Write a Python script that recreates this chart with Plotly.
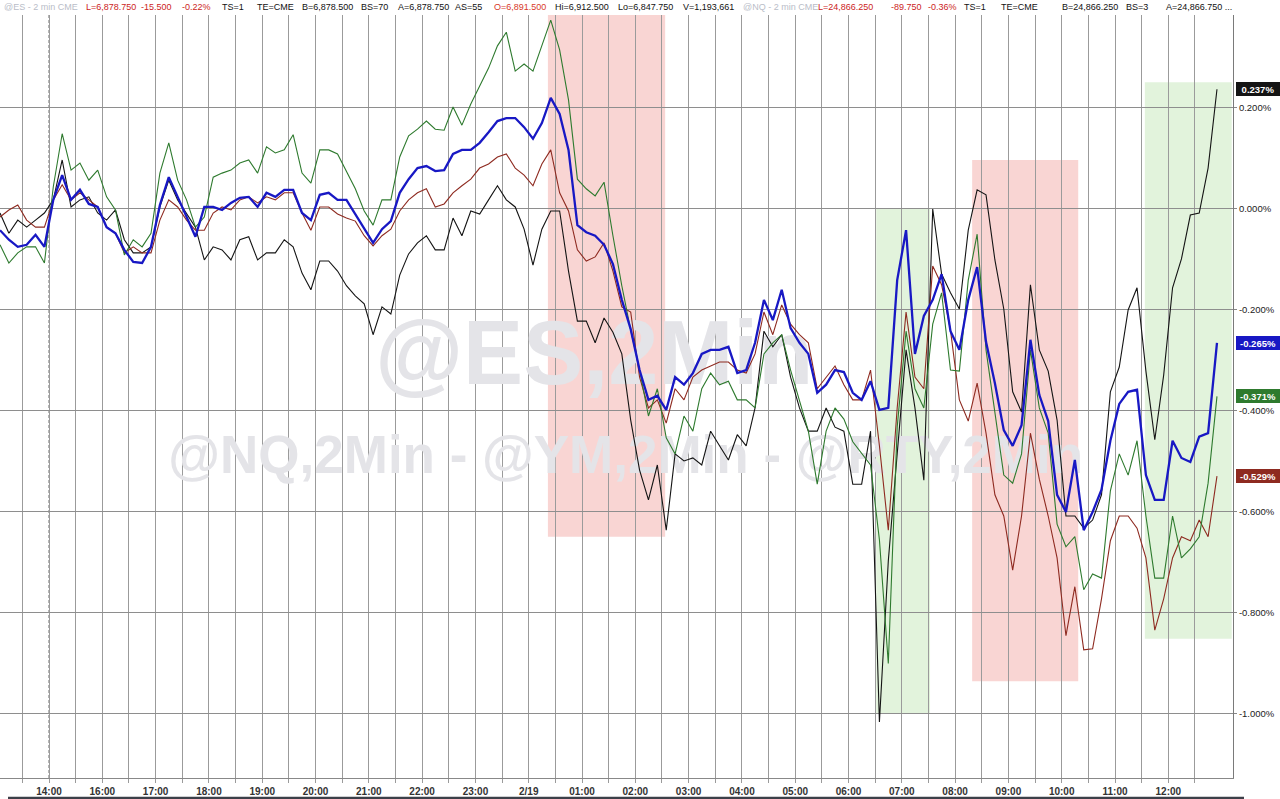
import plotly.graph_objects as go

# ---------------- data (percent change, 10-minute samples) ----------------
TIME_LABELS = ["14:00", "16:00", "17:00", "18:00", "19:00", "20:00", "21:00", "22:00",
               "23:00", "2/19", "01:00", "02:00", "03:00", "04:00", "05:00", "06:00",
               "07:00", "08:00", "09:00", "10:00", "11:00", "12:00"]
X0 = -0.92          # first sample, in session hours relative to the 14:00 label
STEP = 1 / 6        # 10 minutes

es = [-0.042, -0.061, -0.075, -0.071, -0.051, -0.075, 0.018, 0.067, 0.018, 0.038,
      0.010, 0.004, -0.036, -0.048, -0.081, -0.105, -0.107, -0.075, 0.008, 0.063,
      0.024, -0.016, -0.055, 0.004, 0.004, -0.002, 0.012, 0.022, 0.024, 0.004,
      0.032, 0.024, 0.038, 0.038, -0.008, -0.022, 0.028, 0.032, 0.018, 0.018,
      -0.010, -0.040, -0.067, -0.040, -0.024, 0.032, 0.059, 0.081, 0.085, 0.075,
      0.077, 0.109, 0.117, 0.117, 0.131, 0.152, 0.174, 0.180, 0.180, 0.162,
      0.139, 0.170, 0.220, 0.188, 0.117, -0.032, -0.046, -0.053, -0.071, -0.109,
      -0.180, -0.238, -0.319, -0.378, -0.370, -0.398, -0.333, -0.348, -0.325, -0.287,
      -0.279, -0.279, -0.273, -0.325, -0.319, -0.265, -0.180, -0.220, -0.160, -0.236,
      -0.265, -0.287, -0.364, -0.348, -0.319, -0.323, -0.364, -0.378, -0.341, -0.398,
      -0.394, -0.141, -0.042, -0.287, -0.212, -0.180, -0.129, -0.242, -0.279, -0.180,
      -0.115, -0.263, -0.345, -0.438, -0.469, -0.428, -0.259, -0.368, -0.420, -0.566,
      -0.600, -0.497, -0.636, -0.600, -0.556, -0.459, -0.386, -0.362, -0.358, -0.527,
      -0.576, -0.576, -0.459, -0.493, -0.501, -0.451, -0.444, -0.265]

nq = [-0.071, -0.107, -0.087, -0.075, -0.075, -0.107, 0.044, 0.149, 0.077, 0.091,
      0.057, 0.077, 0.024, -0.002, -0.091, -0.061, -0.075, -0.048, 0.071, 0.131,
      0.057, 0.018, -0.036, -0.016, 0.063, 0.071, 0.077, 0.091, 0.097, 0.071,
      0.123, 0.111, 0.117, 0.147, 0.071, 0.051, 0.117, 0.117, 0.109, 0.075,
      0.040, -0.004, -0.032, 0.018, 0.018, 0.103, 0.145, 0.158, 0.174, 0.158,
      0.156, 0.202, 0.166, 0.208, 0.244, 0.279, 0.323, 0.350, 0.273, 0.287,
      0.273, 0.323, 0.374, 0.315, 0.216, 0.059, 0.040, 0.026, 0.053, -0.053,
      -0.152, -0.240, -0.319, -0.410, -0.356, -0.453, -0.485, -0.410, -0.440, -0.356,
      -0.325, -0.348, -0.341, -0.378, -0.378, -0.394, -0.287, -0.265, -0.249, -0.319,
      -0.378, -0.440, -0.545, -0.440, -0.394, -0.416, -0.461, -0.485, -0.507, -0.655,
      -0.900, -0.432, -0.242, -0.356, -0.394, -0.228, -0.166, -0.319, -0.321, -0.141,
      -0.050, -0.279, -0.402, -0.527, -0.543, -0.485, -0.279, -0.394, -0.444, -0.624,
      -0.669, -0.649, -0.754, -0.723, -0.731, -0.558, -0.485, -0.527, -0.459, -0.608,
      -0.731, -0.731, -0.608, -0.691, -0.673, -0.649, -0.543, -0.371]

ym = [-0.016, -0.002, 0.008, -0.022, -0.036, -0.036, 0.018, 0.048, 0.018, 0.032,
      0.018, 0.004, -0.036, -0.048, -0.087, -0.075, -0.087, -0.087, -0.022, 0.018,
      0.004, -0.022, -0.042, -0.042, -0.008, 0.004, -0.002, 0.018, 0.024, 0.012,
      0.024, 0.018, 0.032, 0.032, -0.008, -0.042, 0.004, 0.004, -0.010, -0.018,
      -0.024, -0.053, -0.073, -0.053, -0.040, -0.004, 0.018, 0.032, 0.040, 0.004,
      0.010, 0.032, 0.046, 0.059, 0.081, 0.089, 0.103, 0.109, 0.081, 0.067,
      0.046, 0.089, 0.117, 0.032, -0.004, -0.081, -0.103, -0.095, -0.067, -0.123,
      -0.194, -0.204, -0.333, -0.394, -0.378, -0.424, -0.356, -0.378, -0.333, -0.319,
      -0.311, -0.303, -0.303, -0.319, -0.325, -0.287, -0.204, -0.249, -0.190, -0.228,
      -0.249, -0.265, -0.356, -0.333, -0.311, -0.348, -0.378, -0.378, -0.319, -0.469,
      -0.636, -0.394, -0.204, -0.333, -0.356, -0.113, -0.150, -0.240, -0.378, -0.420,
      -0.345, -0.444, -0.566, -0.608, -0.715, -0.608, -0.444, -0.535, -0.608, -0.691,
      -0.845, -0.748, -0.873, -0.871, -0.772, -0.657, -0.608, -0.608, -0.632, -0.691,
      -0.834, -0.772, -0.691, -0.649, -0.657, -0.616, -0.649, -0.529]

rty = [-0.008, -0.048, -0.022, -0.036, -0.022, -0.008, 0.018, 0.097, 0.004, 0.018,
       0.024, -0.008, -0.022, -0.002, -0.061, -0.087, -0.087, -0.075, 0.004, 0.057,
       0.018, -0.008, -0.036, -0.101, -0.075, -0.081, -0.101, -0.061, -0.055, -0.101,
       -0.087, -0.087, -0.061, -0.075, -0.127, -0.160, -0.103, -0.103, -0.123, -0.152,
       -0.172, -0.188, -0.249, -0.194, -0.208, -0.131, -0.089, -0.067, -0.053, -0.081,
       -0.081, -0.018, -0.053, -0.004, -0.010, 0.018, 0.046, 0.018, 0.004, -0.040,
       -0.111, -0.040, -0.004, -0.004, -0.123, -0.222, -0.222, -0.265, -0.216, -0.244,
       -0.287, -0.418, -0.517, -0.576, -0.507, -0.636, -0.485, -0.499, -0.493, -0.507,
       -0.440, -0.469, -0.497, -0.447, -0.469, -0.394, -0.242, -0.273, -0.249, -0.333,
       -0.394, -0.440, -0.440, -0.394, -0.432, -0.440, -0.545, -0.545, -0.440, -1.016,
       -0.697, -0.485, -0.279, -0.394, -0.537, 0.000, -0.129, -0.166, -0.198, -0.042,
       0.038, 0.028, -0.101, -0.198, -0.362, -0.402, -0.150, -0.279, -0.321, -0.418,
       -0.608, -0.608, -0.632, -0.616, -0.566, -0.362, -0.313, -0.200, -0.156, -0.321,
       -0.457, -0.329, -0.156, -0.099, -0.012, -0.008, 0.081, 0.237]

Y_TICKS = [0.2, 0.0, -0.2, -0.4, -0.6, -0.8, -1.0]

# shaded periods: (start hour, end hour, top %, bottom %, colour)
SHADES = [
    (9.36, 11.56, 0.384, -0.649, "#f9d5d3"),
    (15.52, 16.53, 0.002, -0.998, "#e2f3dc"),
    (17.32, 19.31, 0.097, -0.935, "#f9d5d3"),
    (20.56, 22.19, 0.251, -0.851, "#e2f3dc"),
]

SERIES = [  # name, values, colour, width
    ("@RTY", rty, "#141414", 1.1),
    ("@YM", ym, "#8e2a20", 1.1),
    ("@NQ", nq, "#2e7a2e", 1.1),
    ("@ES", es, "#1818c4", 2.3),
]

HEADER = [
    ("@ES - 2 min CME", "#b9bdc8", 2), ("L=6,878.750", "#cc2424", 84),
    ("-15.500", "#cc2424", 139), ("-0.22%", "#cc2424", 180), ("TS=1", "#111", 220),
    ("TE=CME", "#111", 255), ("B=6,878.500", "#111", 300), ("BS=70", "#111", 359),
    ("A=6,878.750", "#111", 396), ("AS=55", "#111", 453), ("O=6,891.500", "#d83a2a", 492),
    ("Hi=6,912.500", "#111", 553), ("Lo=6,847.750", "#111", 616), ("V=1,193,661", "#111", 681),
    ("@NQ - 2 min CME", "#b9bdc8", 741), ("L=24,866.250", "#cc2424", 816),
    ("-89.750", "#cc2424", 889), ("-0.36%", "#cc2424", 926), ("TS=1", "#111", 962),
    ("TE=CME", "#111", 999), ("B=24,866.250", "#111", 1060), ("BS=3", "#111", 1124),
    ("A=24,866.750 ...", "#111", 1164),
]

FONT = "Liberation Sans, Arial, sans-serif"
GRID = "#9b9b9b"

x = [X0 + i * STEP for i in range(len(es))]

fig = go.Figure()

# watermarks (drawn first so the lines pass over them)
fig.add_trace(go.Scatter(x=[10.23], y=[-0.302], mode="text", text=["@ES,2Min"],
                         textfont=dict(size=90, color="#e4e4e8", family=FONT, weight="bold"),
                         hoverinfo="skip", showlegend=False))
fig.add_trace(go.Scatter(x=[10.82], y=[-0.496], mode="text",
                         text=["@NQ,2Min - @YM,2Min - @RTY,2Min"],
                         textfont=dict(size=53, color="#e4e4e8", family=FONT, weight="bold"),
                         hoverinfo="skip", showlegend=False))

for name, vals, col, w in SERIES:
    fig.add_trace(go.Scatter(x=x, y=vals, mode="lines", name=name,
                             line=dict(color=col, width=w), showlegend=False))

shapes = []
for x0, x1, top, bot, col in SHADES:
    shapes.append(dict(type="rect", xref="x", yref="y", x0=x0, x1=x1, y0=bot, y1=top,
                       fillcolor=col, line=dict(width=0), layer="below"))
# session start marker
shapes.append(dict(type="line", xref="x", yref="paper", x0=0, x1=0, y0=0, y1=1,
                   line=dict(color="white", width=1.5), layer="between"))
shapes.append(dict(type="line", xref="x", yref="paper", x0=0, x1=0, y0=0, y1=1,
                   line=dict(color="#666666", width=1, dash="3px,2px"), layer="between"))
# bottom scroll strip
shapes.append(dict(type="rect", xref="paper", yref="paper", x0=8 / 1233, x1=1244 / 1233,
                   y0=-0.0275, y1=-0.0245, fillcolor="#3c4049", line=dict(width=0)))

annotations = []
for txt, col, px in HEADER:
    annotations.append(dict(xref="paper", yref="paper", x=px / 1233, y=1 + 8 / 763,
                            xanchor="left", yanchor="middle", showarrow=False, text=txt,
                            font=dict(family=FONT, size=9, color=col)))
for name, vals, col, w in SERIES:
    annotations.append(dict(xref="paper", yref="y", x=1236 / 1233, y=vals[-1],
                            xanchor="left", yanchor="middle", showarrow=False,
                            text=f"<b>{vals[-1]:.3f}%</b>", bgcolor=col, bordercolor=col,
                            borderpad=1, width=40, height=10, align="center",
                            font=dict(family=FONT, size=9.5, color="white")))

half_hours = [k + 0.5 for k in range(-1, len(TIME_LABELS))]

fig.update_layout(
    width=1280, height=799,
    margin=dict(l=0, r=47, t=15, b=21),
    paper_bgcolor="white", plot_bgcolor="white",
    shapes=shapes, annotations=annotations,
    xaxis=dict(range=[-0.92, 22.214], tickmode="array",
               tickvals=list(range(len(TIME_LABELS))), ticktext=TIME_LABELS,
               showgrid=True, gridcolor=GRID, gridwidth=1, zeroline=False,
               ticks="outside", ticklen=4, tickcolor=GRID,
               showline=True, linecolor="#888888", linewidth=1,
               tickfont=dict(family=FONT, size=10, color="#333333", weight="bold"),
               minor=dict(tickmode="array", tickvals=half_hours, showgrid=True,
                          gridcolor=GRID, gridwidth=1, ticks="outside", ticklen=4,
                          tickcolor=GRID)),
    yaxis=dict(range=[-1.1268, 0.3841], side="right", tickmode="array",
               tickvals=Y_TICKS, ticktext=[f"{v:.3f}%" for v in Y_TICKS],
               showgrid=True, gridcolor="#8e8e8e", gridwidth=1, zeroline=False,
               ticks="outside", ticklen=3, tickcolor="#888888",
               showline=True, linecolor="#7a7a7a", linewidth=1,
               tickfont=dict(family=FONT, size=9.5, color="#222222")),
    hovermode=False,
)

fig.write_html("out.html", config={"displayModeBar": False},
               post_script="document.body.style.margin='0';")
